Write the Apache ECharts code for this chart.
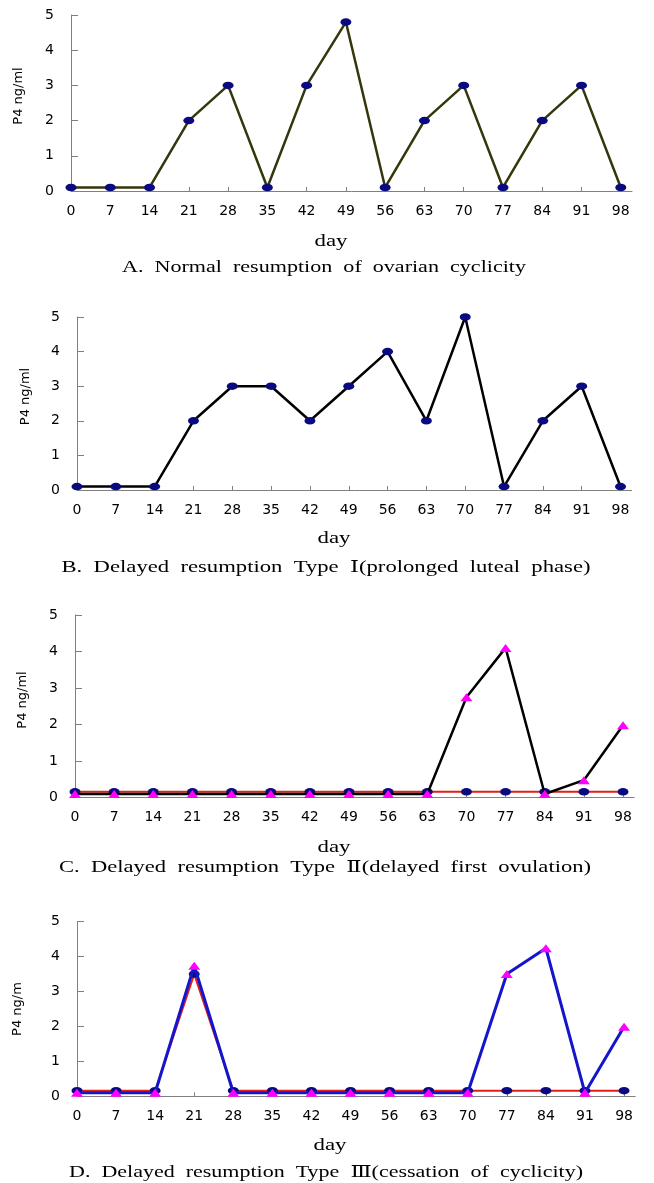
<!DOCTYPE html>
<html><head><meta charset="utf-8">
<script src="https://cdn.jsdelivr.net/npm/echarts@6/dist/echarts.min.js"></script>
<style>html,body{margin:0;padding:0;background:#fff;}#c{width:654px;height:1183px;}</style>
</head><body><div id="c"></div>
<script>
// ---- data ----
const days = [0, 7, 14, 21, 28, 35, 42, 49, 56, 63, 70, 77, 84, 91, 98];
const yTicks = [0, 1, 2, 3, 4, 5];
const seriesA = [0.1, 0.1, 0.1, 2, 3, 0.1, 3, 4.8, 0.1, 2, 3, 0.1, 2, 3, 0.1];
const seriesB = [0.1, 0.1, 0.1, 2, 3, 3, 2, 3, 4, 2, 5, 0.1, 2, 3, 0.1];
const seriesCcircle = [0.16, 0.16, 0.16, 0.16, 0.16, 0.16, 0.16, 0.16, 0.16, 0.16, 0.16, 0.16, 0.16, 0.16, 0.16];
const seriesCtriangle = [0.1, 0.1, 0.1, 0.1, 0.1, 0.1, 0.1, 0.1, 0.1, 0.1, 2.75, 4.1, 0.1, 0.48, 1.98];
const seriesDcircle = [0.16, 0.16, 0.16, 3.5, 0.16, 0.16, 0.16, 0.16, 0.16, 0.16, 0.16, 0.16, 0.16, 0.16, 0.16];
const seriesDtriangle = [0.1, 0.1, 0.1, 3.74, 0.1, 0.1, 0.1, 0.1, 0.1, 0.1, 0.1, 3.5, 4.24, 0.1, 1.99];
const xName = 'day';
const yNames = ['P4 ng/ml', 'P4 ng/ml', 'P4 ng/ml', 'P4 ng/m'];
const captions = [
  'A.  Normal  resumption  of  ovarian  cyclicity',
  'B.  Delayed  resumption  Type  \u2160(prolonged  luteal  phase)',
  'C.  Delayed  resumption  Type  \u2161(delayed  first  ovulation)',
  'D.  Delayed  resumption  Type  \u2162(cessation  of  cyclicity)'
];

// ---- layout ----
const grids = [
  {left: 71, top: 15, width: 561, height: 176},
  {left: 77, top: 317, width: 554.6, height: 173},
  {left: 75, top: 615, width: 559.2, height: 182.7},
  {left: 77, top: 921.7, width: 558.2, height: 174.6}
];
const dayPos = [[331, 242], [334, 539], [334, 848], [330, 1146]];
const capPos = [[324, 267, 404], [326, 567, 529], [325, 867, 532], [326, 1172, 514]];
const yNamePos = [[18.5, 96], [25.5, 396.5], [23, 700], [18, 1009]];

const serifFont = '"Liberation Serif","DejaVu Serif","Times New Roman","Noto Sans CJK KR",serif';
const sansFont = '"DejaVu Sans",sans-serif';
const mctx = document.createElement('canvas').getContext('2d');
function textW(t, size, fam) { mctx.font = size + 'px ' + fam; return mctx.measureText(t).width; }

const AX = '#808080';
const NAVY = '#0a0a80';
const MAG = '#ff00ff';

function pairs(vals) { return days.map((d, i) => [d, vals[i]]); }

const xAxes = grids.map((g, i) => ({
  type: 'value', gridIndex: i, min: 0, max: 100,
  axisLine: {show: true, lineStyle: {color: AX, width: 1}},
  axisTick: {show: true, inside: true, length: 4, lineStyle: {color: AX}, customValues: days},
  axisLabel: {show: true, customValues: days, margin: 13, color: '#000', fontSize: 14, fontFamily: sansFont},
  splitLine: {show: false}
}));
const yAxes = grids.map((g, i) => ({
  type: 'value', gridIndex: i, min: 0, max: 5, interval: 1,
  axisLine: {show: true, lineStyle: {color: AX, width: 1}},
  axisTick: {show: true, inside: true, length: 7, lineStyle: {color: AX}},
  axisLabel: {show: true, margin: 17, color: '#000', fontSize: 14, fontFamily: sansFont, customValues: yTicks},
  splitLine: {show: false}
}));

function lineSeries(idx, vals, color, width, symbol, size, symColor, z) {
  return {
    type: 'line', xAxisIndex: idx, yAxisIndex: idx, data: pairs(vals),
    symbol: symbol, symbolSize: size, showAllSymbol: true,
    lineStyle: {color: color, width: width},
    itemStyle: {color: symColor, borderWidth: 0},
    z: z, animation: false, silent: true
  };
}

const series = [
  lineSeries(0, seriesA, '#36360c', 2.5, 'circle', [11, 7.5], NAVY, 2),
  lineSeries(1, seriesB, '#000000', 2.5, 'circle', [11, 7.5], NAVY, 2),
  lineSeries(2, seriesCcircle, '#e0201a', 2, 'circle', [11, 7.5], NAVY, 2),
  lineSeries(2, seriesCtriangle, '#000000', 2.5, 'triangle', [12, 8], MAG, 3),
  lineSeries(3, seriesDcircle, '#e0201a', 2, 'circle', [11, 7.5], NAVY, 2),
  lineSeries(3, seriesDtriangle, '#1515cc', 3, 'triangle', [12, 8], MAG, 3)
];

const graphics = [];
dayPos.forEach((p) => {
  const w = textW(xName, 17, serifFont);
  graphics.push({type: 'text', x: p[0], y: p[1], scaleX: 33 / w,
    style: {text: xName, x: 0, y: 0, textAlign: 'center', textVerticalAlign: 'middle', font: '17px ' + serifFont, fill: '#000'}});
});
capPos.forEach((p, i) => {
  const w = textW(captions[i], 17.5, serifFont);
  graphics.push({type: 'text', x: p[0], y: p[1], scaleX: p[2] / w,
    style: {text: captions[i], x: 0, y: 0, textAlign: 'center', textVerticalAlign: 'middle', font: '17.5px ' + serifFont, fill: '#000'}});
});
yNamePos.forEach((p, i) => {
  graphics.push({type: 'text', x: p[0], y: p[1], rotation: Math.PI / 2,
    style: {text: yNames[i], x: 0, y: 0, textAlign: 'center', textVerticalAlign: 'middle', font: '13px ' + sansFont, fill: '#000'}});
});

const chart = echarts.init(document.getElementById('c'), null, {renderer: 'canvas'});
chart.setOption({
  backgroundColor: '#fff',
  animation: false,
  grid: grids,
  xAxis: xAxes,
  yAxis: yAxes,
  series: series,
  graphic: graphics
});
</script></body></html>
